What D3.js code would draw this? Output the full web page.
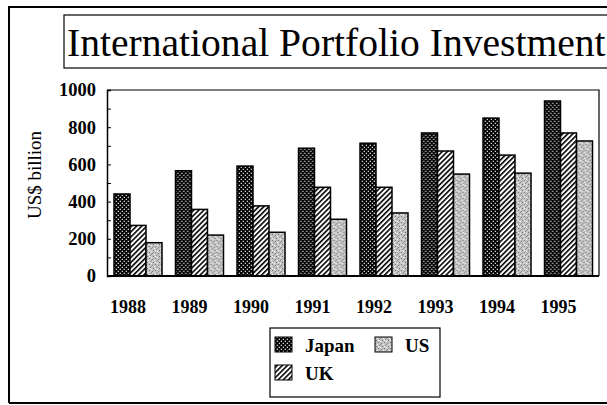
<!DOCTYPE html>
<html>
<head>
<meta charset="utf-8">
<script src="https://cdn.jsdelivr.net/npm/d3@7"></script>
<style>
  html, body { margin: 0; padding: 0; background: #fff; }
  svg { display: block; }
  text { font-family: "Liberation Serif", "Times New Roman", serif; fill: #000; }
</style>
</head>
<body>
<svg id="chart" width="607" height="405"></svg>
<script>
// Portfolio investment by country, US$ billion
const years = ["1988", "1989", "1990", "1991", "1992", "1993", "1994", "1995"];
const seriesNames = ["Japan", "UK", "US"];
const japan = [441, 566, 591, 687, 714, 769, 849, 941];
const uk    = [272, 358, 377, 477, 477, 672, 650, 769];
const us    = [179, 220, 235, 305, 339, 548, 553, 726];
const yTicks = [0, 200, 400, 600, 800, 1000];
const chartTitle = "International Portfolio Investment";
const yTitle = "US$ billion";

const seriesValues = { Japan: japan, UK: uk, US: us };

const svg = d3.select("#chart");
const defs = svg.append("defs");

// Fill patterns: dotted black, diagonal hatch, grey stipple
const pJ = defs.append("pattern").attr("id", "pat-Japan")
  .attr("patternUnits", "userSpaceOnUse").attr("width", 4).attr("height", 4);
pJ.append("rect").attr("width", 4).attr("height", 4).attr("fill", "#000");
pJ.append("rect").attr("x", 0.7).attr("y", 0.7).attr("width", 1.2).attr("height", 1.2).attr("fill", "#fff");
pJ.append("rect").attr("x", 2.7).attr("y", 2.7).attr("width", 1.2).attr("height", 1.2).attr("fill", "#fff");

const pU = defs.append("pattern").attr("id", "pat-UK")
  .attr("patternUnits", "userSpaceOnUse").attr("width", 3.6).attr("height", 3.6)
  .attr("patternTransform", "rotate(45)");
pU.append("rect").attr("width", 3.6).attr("height", 3.6).attr("fill", "#fff");
pU.append("rect").attr("x", 0).attr("y", 0).attr("width", 1.6).attr("height", 3.6).attr("fill", "#000");

const pS = defs.append("pattern").attr("id", "pat-US")
  .attr("patternUnits", "userSpaceOnUse").attr("width", 6).attr("height", 6);
pS.append("rect").attr("width", 6).attr("height", 6).attr("fill", "#c4c4c4");
[[0,0,"#777"],[3,1,"#888"],[1,3,"#999"],[4,4,"#6a6a6a"],[5,2,"#eee"],[2,5,"#f4f4f4"],[0,4,"#fff"],[4,0,"#aaa"],[2,2,"#8a8a8a"]]
  .forEach(([x, y, c]) => pS.append("rect").attr("x", x).attr("y", y).attr("width", 1).attr("height", 1).attr("fill", c));

// Outer frame
svg.append("path").attr("d", "M9,403 L9,7 L612,7").attr("fill", "none")
  .attr("stroke", "#000").attr("stroke-width", 2);
svg.append("line").attr("x1", 9).attr("x2", 612).attr("y1", 403).attr("y2", 403)
  .attr("stroke", "#000").attr("stroke-width", 2);

// Title box
svg.append("rect").attr("x", 64).attr("y", 15).attr("width", 560).attr("height", 53)
  .attr("fill", "none").attr("stroke", "#000").attr("stroke-width", 1.2);
svg.append("text").attr("x", 67).attr("y", 56).attr("font-size", 39.6).text(chartTitle);

// Scales
const plot = { left: 107, right: 599, top: 90, bottom: 276 };
const x0 = d3.scaleBand().domain(years).range([plot.left, plot.right]).padding(0);
const x1 = d3.scaleBand().domain(seriesNames).range([7, 55]).padding(0);
const y = d3.scaleLinear().domain([0, 1000]).range([plot.bottom, plot.top]);

// Plot frame (top and right)
svg.append("path")
  .attr("d", `M${plot.left},${plot.top} L${plot.right},${plot.top} L${plot.right},${plot.bottom}`)
  .attr("fill", "none").attr("stroke", "#000").attr("stroke-width", 1.2);

// Left axis with inward minor ticks every 100
const yAxis = svg.append("g").attr("transform", `translate(${plot.left},0)`)
  .call(d3.axisRight(y).tickValues(d3.range(0, 1001, 100)).tickSize(4).tickFormat(""));
yAxis.select(".domain").attr("stroke-width", 1.5);
yAxis.selectAll(".tick line").attr("stroke-width", 1);

svg.append("g").selectAll("text").data(yTicks).join("text")
  .attr("x", 96).attr("y", d => y(d)).attr("dy", "0.35em")
  .attr("text-anchor", "end").attr("font-size", 18.5).attr("font-weight", "bold")
  .text(d => d);

svg.append("text")
  .attr("transform", `translate(41,175) rotate(-90)`)
  .attr("text-anchor", "middle").attr("font-size", 19).text(yTitle);

// Bars
const groups = svg.append("g").selectAll("g").data(years).join("g")
  .attr("transform", d => `translate(${x0(d)},0)`);
groups.selectAll("rect")
  .data((yr, i) => seriesNames.map(s => ({ s, v: seriesValues[s][i] })))
  .join("rect")
  .attr("x", d => x1(d.s))
  .attr("y", d => y(d.v))
  .attr("width", x1.bandwidth())
  .attr("height", d => y(0) - y(d.v))
  .attr("fill", d => `url(#pat-${d.s})`)
  .attr("stroke", "#000").attr("stroke-width", 1.5);

// Baseline
svg.append("line").attr("x1", plot.left).attr("x2", plot.right)
  .attr("y1", plot.bottom).attr("y2", plot.bottom)
  .attr("stroke", "#000").attr("stroke-width", 2);

// Year labels
svg.append("g").selectAll("text").data(years).join("text")
  .attr("x", d => x0(d) + 21).attr("y", 313)
  .attr("text-anchor", "middle").attr("font-size", 18).attr("font-weight", "bold")
  .text(d => d);

// Legend
const legend = svg.append("g");
legend.append("rect").attr("x", 270).attr("y", 328).attr("width", 170).attr("height", 69)
  .attr("fill", "none").attr("stroke", "#000").attr("stroke-width", 1.2);
const legendItems = [
  { s: "Japan", x: 275, y: 337 },
  { s: "US", x: 375, y: 337 },
  { s: "UK", x: 275, y: 365 }
];
legendItems.forEach(it => {
  legend.append("rect").attr("x", it.x).attr("y", it.y).attr("width", 17).attr("height", 15)
    .attr("fill", `url(#pat-${it.s})`).attr("stroke", "#000").attr("stroke-width", 1);
  legend.append("text").attr("x", it.x + 30).attr("y", it.y + 15)
    .attr("font-size", 19).attr("font-weight", "bold").text(it.s);
});
</script>
</body>
</html>
